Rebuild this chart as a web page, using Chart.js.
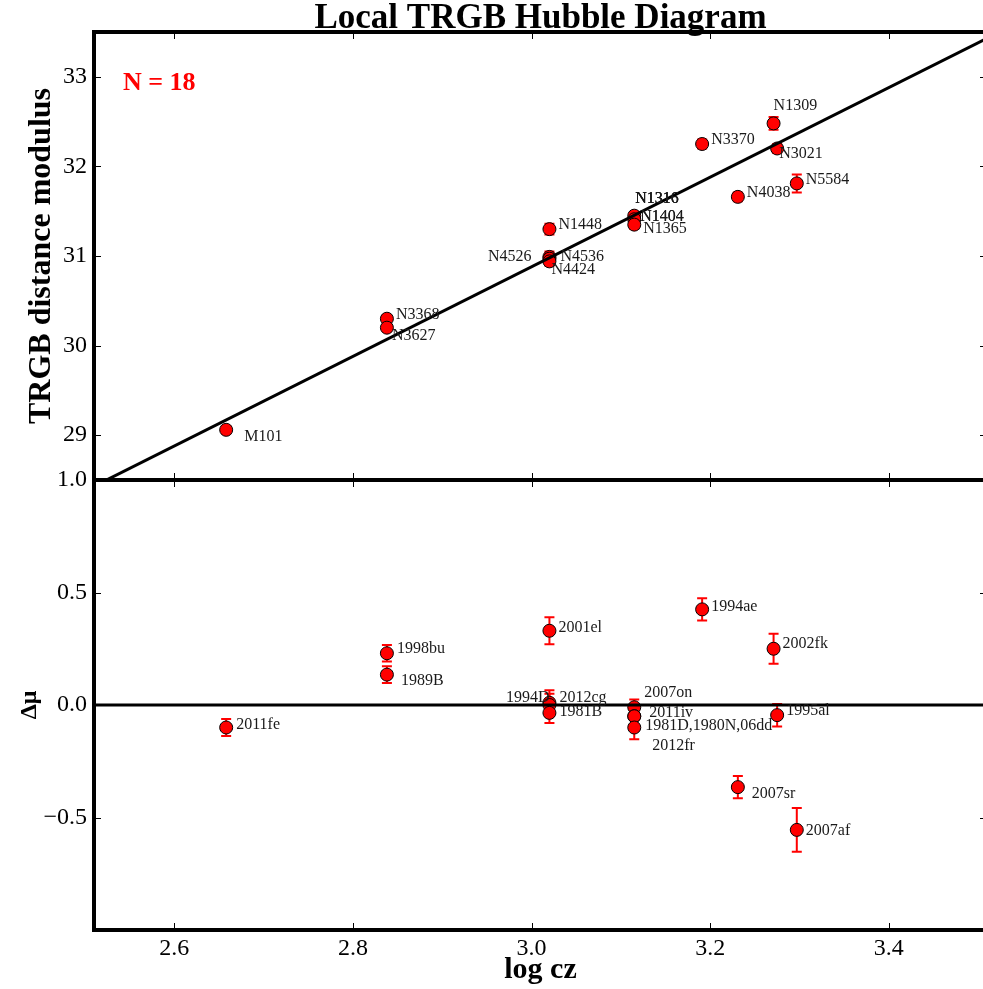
<!DOCTYPE html>
<html>
<head>
<meta charset="utf-8">
<script src="https://cdn.jsdelivr.net/npm/chart.js@4.4.1/dist/chart.umd.min.js"></script>
<style>
  html, body { margin: 0; padding: 0; background: #fff; }
  #wrap { position: relative; width: 983px; height: 989px; overflow: hidden; background: #fff; }
  #top { position: absolute; left: 0; top: 0; }
  #bottom { position: absolute; left: 0; top: 440px; }
</style>
</head>
<body>
<div id="wrap">
  <canvas id="top" width="990" height="482"></canvas>
  <canvas id="bottom" width="990" height="549"></canvas>
</div>
<script>
// host galaxies, TRGB distance moduli (top panel)
const hosts = ['M101', 'N3368', 'N3627', 'N1448', 'N4526', 'N4536', 'N4424', 'N1316', 'N1404', 'N1365', 'N3370', 'N1309', 'N3021', 'N4038', 'N5584'];
const hostLogCz = [2.658, 2.838, 2.838, 3.020, 3.020, 3.020, 3.020, 3.115, 3.115, 3.115, 3.191, 3.271, 3.275, 3.231, 3.297];
const hostMu = [29.06, 30.30, 30.20, 31.30, 30.99, 30.97, 30.94, 31.45, 31.41, 31.35, 32.25, 32.48, 32.20, 31.66, 31.81];
const hostMuErr = [0.04, 0.04, 0.04, 0.06, 0.06, 0.05, 0.05, 0.04, 0.04, 0.05, 0.05, 0.07, 0.05, 0.05, 0.10];

// SNe Ia residuals (bottom panel)
const sne = ['2011fe', '1998bu', '1989B', '2001el', '1994D', '2012cg', '1981B', '1981D,1980N,06dd', '2007on', '2011iv', '2012fr', '1994ae', '2002fk', '1995al', '2007sr', '2007af'];
const snLogCz = [2.658, 2.838, 2.838, 3.020, 3.020, 3.020, 3.020, 3.115, 3.115, 3.115, 3.115, 3.191, 3.271, 3.275, 3.231, 3.297];
const snDmu = [-0.10, 0.23, 0.135, 0.33, 0.01, 0.0, -0.035, -0.01, -0.05, -0.05, -0.10, 0.425, 0.25, -0.045, -0.365, -0.555];
const snDmuErr = [0.038, 0.037, 0.037, 0.06, 0.056, 0.05, 0.045, 0.035, 0.05, 0.05, 0.052, 0.049, 0.067, 0.05, 0.049, 0.097];

// fitted Hubble line and zero line
const fitLogCz = [2.51, 3.51];
const fitMu = [28.43, 33.43];
const zeroLogCz = [2.51, 3.51];
const zeroDmu = [0, 0];

const xRange = [2.51, 3.51];
const muRange = [28.5, 33.5];
const dmuRange = [-1, 1];
const xTicks = [2.6, 2.8, 3.0, 3.2, 3.4];
const muTicks = [29, 30, 31, 32, 33];
const dmuTicks = [-0.5, 0.0, 0.5, 1.0];

const nLabel = 'N = 18';

// label nudges in px: [dx, dy, align, overstrike]
const hostLabelPos = {
  'M101': [18, 7], 'N3368': [9, -4], 'N3627': [5, 8], 'N1448': [9, -4],
  'N4526': [-18, 0, 'right'], 'N4536': [11, -2], 'N4424': [2, 8],
  'N1316': [1, -17, 'left', 3], 'N1404': [6, -2, 'left', 2], 'N1365': [9, 4],
  'N3370': [9, -4], 'N1309': [0, -18], 'N3021': [2, 5], 'N4038': [9, -4], 'N5584': [9, -4]
};
const snLabelPos = {
  '2011fe': [10, -3], '1998bu': [10, -4], '1989B': [14, 6], '2001el': [9, -3],
  '1994D': [0, -5, 'right'], '2012cg': [10, -7], '1981B': [10, -1],
  '1981D,1980N,06dd': [11, 19], '2007on': [10, -23], '2011iv': [15, -3], '2012fr': [18, 18],
  '1994ae': [9, -3], '2002fk': [9, -5], '1995al': [9, -4], '2007sr': [14, 7], '2007af': [9, 1]
};

const serif = '"Liberation Serif", "Times New Roman", serif';

const decor = {
  id: 'decor',
  beforeDatasetsDraw(chart, args, opts) {
    const ctx = chart.ctx;
    const ys = chart.scales.y;
    const meta = chart.getDatasetMeta(1);
    const ds = chart.data.datasets[1];
    ctx.save();
    ctx.strokeStyle = '#ff0000';
    ctx.lineWidth = 2;
    meta.data.forEach((pt, i) => {
      const d = ds.data[i];
      const y1 = ys.getPixelForValue(d.y + d.err);
      const y2 = ys.getPixelForValue(d.y - d.err);
      ctx.beginPath();
      ctx.moveTo(pt.x, y1); ctx.lineTo(pt.x, y2);
      ctx.moveTo(pt.x - 5, y1); ctx.lineTo(pt.x + 5, y1);
      ctx.moveTo(pt.x - 5, y2); ctx.lineTo(pt.x + 5, y2);
      ctx.stroke();
    });
    ctx.restore();
  },
  afterDatasetsDraw(chart, args, opts) {
    const { ctx, chartArea: a, scales } = chart;
    const meta = chart.getDatasetMeta(1);
    const ds = chart.data.datasets[1];
    ctx.save();

    ctx.fillStyle = '#1a1a1a';
    ctx.textBaseline = 'middle';
    ctx.font = '16px ' + serif;
    meta.data.forEach((pt, i) => {
      const d = ds.data[i];
      const p = opts.labelPos[d.name] || [9, -4];
      ctx.textAlign = p[2] || 'left';
      for (let k = 0; k < (p[3] || 1); k++) ctx.fillText(d.name, pt.x + p[0], pt.y + p[1]);
    });

    // inward ticks on all four sides
    ctx.strokeStyle = '#000';
    ctx.lineWidth = 1;
    ctx.beginPath();
    xTicks.forEach(v => {
      const px = Math.round(scales.x.getPixelForValue(v)) + 0.5;
      ctx.moveTo(px, a.top); ctx.lineTo(px, a.top + 7);
      ctx.moveTo(px, a.bottom); ctx.lineTo(px, a.bottom - 7);
    });
    opts.yTicks.forEach(v => {
      const py = Math.round(scales.y.getPixelForValue(v)) + 0.5;
      ctx.moveTo(a.left, py); ctx.lineTo(a.left + 7, py);
      ctx.moveTo(a.right, py); ctx.lineTo(a.right - 7, py);
    });
    ctx.stroke();

    // frame
    ctx.lineWidth = 4;
    ctx.strokeRect(a.left, a.top, a.right - a.left, a.bottom - a.top);

    if (opts.note) {
      ctx.fillStyle = '#ff0000';
      ctx.font = 'bold 26px ' + serif;
      ctx.textAlign = 'left';
      ctx.fillText(opts.note, a.left + 29, a.top + 51);
    }
    ctx.restore();
  }
};

const tickFont = { family: serif, size: 24 };
const hideGrid = { display: false, drawTicks: false };

function yScale(range, ticks, fmt, title, titleSize, titlePad) {
  return {
    type: 'linear', min: range[0], max: range[1],
    afterBuildTicks: s => { s.ticks = ticks.map(v => ({ value: v })); },
    afterFit: s => { s.width = 94; s.paddingTop = 0; s.paddingBottom = 0; },
    grid: hideGrid, border: { display: false },
    ticks: { font: tickFont, color: '#000', padding: 7, callback: fmt },
    title: { display: true, text: title, color: '#000',
      font: { family: serif, size: titleSize, weight: 'bold' },
      padding: { top: titlePad, bottom: 0 } }
  };
}

function baseOptions() {
  return {
    responsive: false, animation: false, events: [],
    plugins: { legend: { display: false }, tooltip: { enabled: false } }
  };
}

// top panel
const topOpts = baseOptions();
topOpts.layout = { autoPadding: false, padding: { left: 0, right: 3, top: 0, bottom: 2 } };
topOpts.plugins.title = {
  display: true, fullSize: false, text: 'Local TRGB Hubble Diagram', color: '#000',
  font: { family: serif, size: 35, weight: 'bold', lineHeight: 0.5 },
  padding: { top: 10, bottom: 4.5 }
};
topOpts.plugins.decor = { labelPos: hostLabelPos, yTicks: muTicks, note: nLabel };
topOpts.scales = {
  x: { type: 'linear', min: xRange[0], max: xRange[1], display: false },
  y: yScale(muRange, muTicks, v => String(v), 'TRGB distance modulus', 32, 23)
};

new Chart(document.getElementById('top'), {
  type: 'scatter',
  data: {
    datasets: [
      { data: fitLogCz.map((x, i) => ({ x, y: fitMu[i] })), showLine: true,
        borderColor: '#000', borderWidth: 3, pointRadius: 0 },
      { data: hosts.map((name, i) => ({ x: hostLogCz[i], y: hostMu[i], err: hostMuErr[i], name })),
        backgroundColor: '#ff0000', borderColor: '#000', borderWidth: 1, pointRadius: 6.5 }
    ]
  },
  options: topOpts,
  plugins: [decor]
});

// bottom panel
const fmtRes = v => v.toFixed(1).replace('-', '\u2212');
const botOpts = baseOptions();
botOpts.layout = { autoPadding: false, padding: { left: 0, right: 3, top: 40, bottom: 0 } };
botOpts.plugins.decor = { labelPos: snLabelPos, yTicks: dmuTicks };
botOpts.scales = {
  x: {
    type: 'linear', min: xRange[0], max: xRange[1],
    afterBuildTicks: s => { s.ticks = xTicks.map(v => ({ value: v })); },
    afterFit: s => { s.height = 59; s.paddingLeft = 0; s.paddingRight = 0; },
    grid: hideGrid, border: { display: false },
    ticks: { font: tickFont, color: '#000', padding: 4, maxRotation: 0, callback: v => v.toFixed(1) },
    title: { display: true, text: 'log cz', color: '#000',
      font: { family: serif, size: 30, weight: 'bold' }, padding: { top: 0, bottom: 1 } }
  },
  y: yScale(dmuRange, dmuTicks, fmtRes, '\u0394\u03bc', 24, 15)
};

new Chart(document.getElementById('bottom'), {
  type: 'scatter',
  data: {
    datasets: [
      { data: zeroLogCz.map((x, i) => ({ x, y: zeroDmu[i] })), showLine: true,
        borderColor: '#000', borderWidth: 3, pointRadius: 0 },
      { data: sne.map((name, i) => ({ x: snLogCz[i], y: snDmu[i], err: snDmuErr[i], name })),
        backgroundColor: '#ff0000', borderColor: '#000', borderWidth: 1, pointRadius: 6.5 }
    ]
  },
  options: botOpts,
  plugins: [decor]
});
</script>
</body>
</html>
